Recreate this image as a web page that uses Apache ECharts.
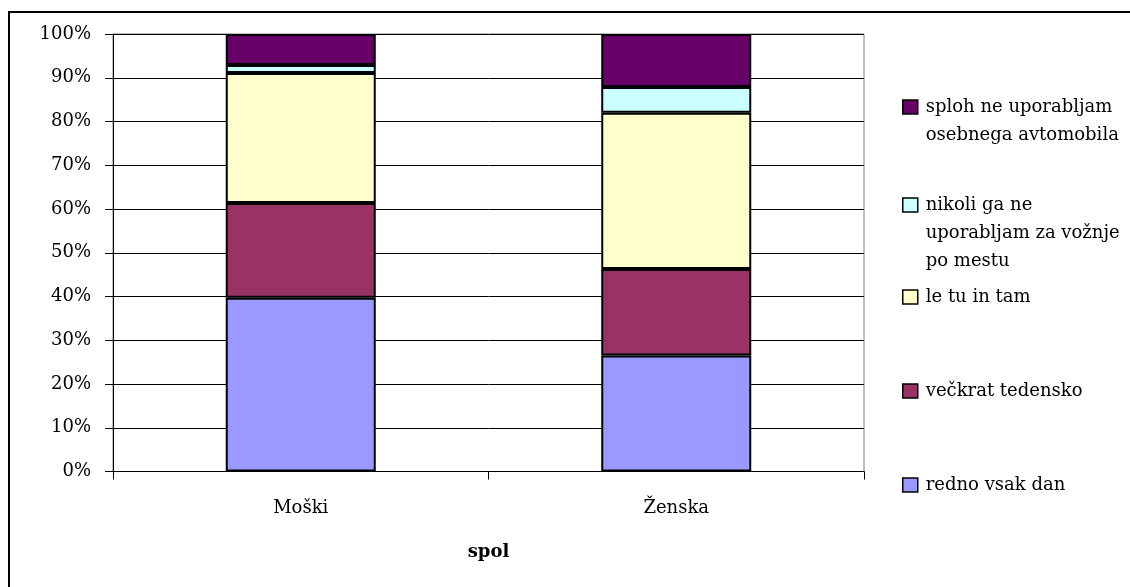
<!DOCTYPE html>
<html>
<head>
<meta charset="utf-8">
<script src="https://cdn.jsdelivr.net/npm/echarts@6/dist/echarts.min.js"></script>
<style>
html,body{margin:0;padding:0;background:#fff;}
#chart{width:1130px;height:587px;}
</style>
</head>
<body>
<div id="chart"></div>
<script>
// Categories and tick labels
const categories = ['Moški', 'Ženska'];
const axisTitle = 'spol';
// Series values (percent of each category)
const rednoVsakDan = [39.7, 26.5];
const veckratTedensko = [21.7, 19.8];
const leTuInTam = [29.7, 35.7];
const nikoliPoMestu = [1.8, 5.9];
const splohNeUporabljam = [7.1, 12.1];
const seriesNames = [
  'redno vsak dan',
  'večkrat tedensko',
  'le tu in tam',
  'nikoli ga ne uporabljam za vožnje po mestu',
  'sploh ne uporabljam osebnega avtomobila'
];
const legendLabels = {
  'sploh ne uporabljam osebnega avtomobila': '\nsploh ne uporabljam\nosebnega avtomobila',
  'nikoli ga ne uporabljam za vožnje po mestu': '\n\nnikoli ga ne\nuporabljam za vožnje\npo mestu',
  'le tu in tam': 'le tu in tam',
  'večkrat tedensko': 'večkrat tedensko',
  'redno vsak dan': 'redno vsak dan'
};
const seriesValues = [rednoVsakDan, veckratTedensko, leTuInTam, nikoliPoMestu, splohNeUporabljam];
const colors = ['#9999FF', '#993366', '#FFFFCC', '#CCFFFF', '#660066'];

const FONT = 'DejaVu Serif';
const FS = 18;

const chart = echarts.init(document.getElementById('chart'), null, {renderer: 'canvas'});

const series = seriesNames.map((name, i) => ({
  name: name,
  type: 'bar',
  stack: 'total',
  barWidth: 150,
  data: seriesValues[i],
  itemStyle: {color: colors[i], borderColor: '#000', borderWidth: 2},
  emphasis: {disabled: true}
}));

const legendTops = {
  'sploh ne uporabljam osebnega avtomobila': 65,
  'nikoli ga ne uporabljam za vožnje po mestu': 135,
  'le tu in tam': 283,
  'večkrat tedensko': 377,
  'redno vsak dan': 471
};

const legends = seriesNames.map((name, i) => ({
  data: [name],
  left: 902,
  top: legendTops[name],
  padding: 0,
  orient: 'vertical',
  itemWidth: 15,
  itemHeight: 14,
  icon: 'rect',
  selectedMode: false,
  itemStyle: {color: colors[i], borderColor: '#000', borderWidth: 1.5},
  formatter: n => legendLabels[n],
  textStyle: {fontFamily: FONT, fontSize: FS, color: '#000', lineHeight: 28, padding: [0, 0, 0, 3]}
}));

chart.setOption({
  animation: false,
  backgroundColor: '#fff',
  graphic: [{
    type: 'rect',
    shape: {x: 9, y: 12, width: 1300, height: 700},
    style: {fill: 'none', stroke: '#000', lineWidth: 2},
    silent: true,
    z: 100
  }],
  grid: {
    left: 113, right: 266, top: 34, bottom: 115.5,
    show: true, borderColor: '#808080', borderWidth: 1, backgroundColor: 'transparent'
  },
  legend: legends,
  xAxis: {
    type: 'category',
    data: categories,
    name: axisTitle,
    nameLocation: 'middle',
    nameGap: 72,
    nameTextStyle: {fontFamily: FONT, fontSize: FS, fontWeight: 'bold', color: '#000'},
    axisLine: {lineStyle: {color: '#000', width: 1}},
    axisTick: {show: true, length: 8, lineStyle: {color: '#000'}},
    axisLabel: {fontFamily: FONT, fontSize: FS, color: '#000', margin: 28}
  },
  yAxis: {
    type: 'value',
    min: 0, max: 100, interval: 10,
    axisLine: {show: true, lineStyle: {color: '#000', width: 1}},
    axisTick: {show: true, length: 8, lineStyle: {color: '#000'}},
    axisLabel: {fontFamily: FONT, fontSize: FS, color: '#000', margin: 22, formatter: '{value}%'},
    splitLine: {show: true, lineStyle: {color: '#000', width: 1}}
  },
  series: series
});
</script>
</body>
</html>
